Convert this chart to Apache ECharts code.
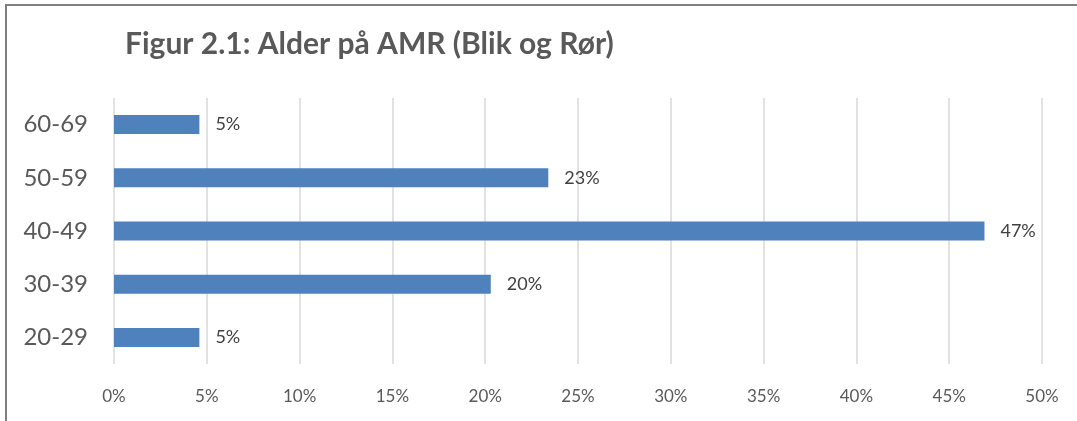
<!DOCTYPE html>
<html>
<head>
<meta charset="utf-8">
<script src="https://cdn.jsdelivr.net/npm/echarts@6/dist/echarts.min.js"></script>
<style>
  html, body { margin: 0; padding: 0; background: #fff; }
  #frame {
    position: absolute; left: 5px; top: 4px; width: 1072px; height: 417px;
    border-top: 2px solid #7f7f7f; border-left: 2px solid #7f7f7f;
  }
  #chart { position: absolute; left: 0; top: 0; width: 1077px; height: 421px; }
</style>
</head>
<body>
<div id="frame"></div>
<div id="chart"></div>
<script>
// age groups, bottom to top
const categories = ["20-29", "30-39", "40-49", "50-59", "60-69"];
// share of members in percent
const shares = [4.6, 20.3, 46.9, 23.4, 4.6];
const xTicks = { min: 0, max: 50, step: 5 };
const title = "Figur 2.1: Alder på AMR (Blik og Rør)";

const font = "Lato, 'Open Sans', sans-serif";

let chart = echarts.init(document.getElementById("chart"), null, { renderer: "canvas" });
let option = {
  animation: false,
  title: {
    text: title,
    left: 120,
    top: 24,
    textStyle: {
      fontFamily: font,
      fontSize: 30,
      fontWeight: "bold",
      color: "#595959"
    }
  },
  grid: {
    left: 114,
    right: 35,
    top: 98,
    bottom: 57,
    containLabel: false
  },
  xAxis: {
    type: "value",
    min: xTicks.min,
    max: xTicks.max,
    interval: xTicks.step,
    axisLine: { show: false },
    axisTick: { show: false },
    splitLine: {
      show: true,
      lineStyle: { color: "#d9d9d9", width: 1.5 }
    },
    axisLabel: {
      margin: 24,
      fontFamily: font,
      fontSize: 17,
      color: "#595959",
      formatter: "{value}%"
    }
  },
  yAxis: {
    type: "category",
    data: categories,
    axisLine: { show: false },
    axisTick: { show: false },
    splitLine: { show: false },
    axisLabel: {
      margin: 26,
      fontFamily: font,
      fontSize: 24,
      color: "#595959"
    }
  },
  series: [
    {
      type: "bar",
      data: shares,
      barWidth: 19,
      itemStyle: { color: "#4f81bd" },
      label: {
        show: true,
        position: "right",
        distance: 16,
        fontFamily: font,
        fontSize: 18,
        color: "#404040",
        formatter: (p) => Math.round(p.value) + "%"
      }
    }
  ]
};
chart.setOption(option);
</script>
</body>
</html>
